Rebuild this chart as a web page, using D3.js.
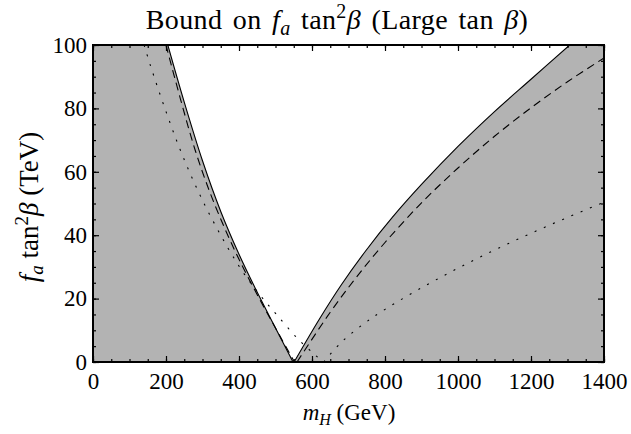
<!DOCTYPE html>
<html><head><meta charset="utf-8">
<script src="https://cdn.jsdelivr.net/npm/d3@7"></script>
<style>body{margin:0;background:#fff}svg{display:block}svg text{font-family:"Liberation Serif","Times New Roman","DejaVu Serif",serif !important;fill:#000}</style>
</head><body>
<svg id="chart" width="631" height="434"></svg>
<script>
// ---- data (GeV, TeV) ----
const xMajorTicks = [0,200,400,600,800,1000,1200,1400];
const yMajorTicks = [0,20,40,60,80,100];
const xMinorTicks = d3.range(0,1401,50);
const yMinorTicks = d3.range(0,101,5);

const leftSolidM  = [205,250,300,350,400,450,500,548];
const leftSolidV  = [100,82,63.5,47.5,34,22,10.75,0];
const rightSolidM = [551,620,680,750,820,900,1000,1100,1200,1306];
const rightSolidV = [0,13.5,24.3,35.5,45.6,56,68,79,89.2,100];

const leftDashedM  = [200,240,280,320,360,400,450,500,552];
const leftDashedV  = [100,82.8,66.8,53.6,42.4,32.4,21.2,10.7,0];
const rightDashedM = [559,650,720,800,900,1000,1100,1200,1300,1400];
const rightDashedV = [0,15.7,26.5,37.7,50.2,61.2,71.2,80.2,88.4,95.9];

const leftDottedM  = [140,156,200,244,300,367,416,460,504,562,603,630];
const leftDottedV  = [100,94,79,65.5,51,36.5,27.5,20.8,14.8,7.2,2.8,0];
const rightDottedM = [632,680,740,800,900,1000,1100,1200,1300,1400];
const rightDottedV = [0,6.2,11.9,16.6,23.4,29.6,35.3,40.6,45.6,50.4];

const zip = (m,v) => m.map((d,i)=>[d,v[i]]);
const FONT = '"Liberation Serif","Times New Roman","DejaVu Serif",serif';

// ---- layout ----
const svg = d3.select("#chart");
const L=93, R=604, T=45, B=362;
const x = d3.scaleLinear().domain([0,1400]).range([L,R]);
const y = d3.scaleLinear().domain([0,100]).range([B,T]);

svg.append("clipPath").attr("id","clip").append("rect")
  .attr("x",L).attr("y",T).attr("width",R-L).attr("height",B-T);
const g = svg.append("g").attr("clip-path","url(#clip)");

const line = d3.line().x(d=>x(d[0])).y(d=>y(d[1])).curve(d3.curveCatmullRom.alpha(0.5));

// gray excluded region, white allowed V
g.append("rect").attr("x",L).attr("y",T).attr("width",R-L).attr("height",B-T).attr("fill","#b3b3b3");
const lp = line(zip(leftSolidM,leftSolidV));
const rp = line(zip(rightSolidM,rightSolidV)).replace(/^M/,"L");
g.append("path").attr("d", lp + rp + "Z").attr("fill","#fff");

// curves
const curves = [
  [leftSolidM,leftSolidV,null],[rightSolidM,rightSolidV,null],
  [leftDashedM,leftDashedV,"8,5"],[rightDashedM,rightDashedV,"8,5"],
  [leftDottedM,leftDottedV,"2,8"],[rightDottedM,rightDottedV,"2,8"]
];
curves.forEach(([m,v,dash])=>{
  g.append("path").attr("d",line(zip(m,v))).attr("fill","none")
   .attr("stroke","#000").attr("stroke-width",1.1)
   .attr("stroke-dasharray",dash);
});

// axes with inward ticks
function axis(gen, scale, vals, size, labels, tx, ty){
  const a = gen(scale).tickValues(vals).tickSizeInner(size).tickSizeOuter(0)
    .tickFormat(labels ? d3.format("d") : "");
  const ag = svg.append("g").attr("transform",`translate(${tx},${ty})`).call(a);
  ag.attr("font-family",FONT);
  ag.select(".domain").remove();
  ag.selectAll("line").attr("stroke","#000").attr("stroke-width",1.2);
  return ag;
}
const xb = axis(d3.axisBottom, x, xMajorTicks, -6, true, 0, B);
axis(d3.axisBottom, x, xMinorTicks, -3, false, 0, B);
axis(d3.axisTop, x, xMajorTicks, -6, false, 0, T);
axis(d3.axisTop, x, xMinorTicks, -3, false, 0, T);
const yl = axis(d3.axisLeft, y, yMajorTicks, -6, true, L, 0);
axis(d3.axisLeft, y, yMinorTicks, -3, false, L, 0);
axis(d3.axisRight, y, yMajorTicks, -6, false, R, 0);
axis(d3.axisRight, y, yMinorTicks, -3, false, R, 0);

xb.selectAll("text").attr("font-size",23).attr("font-family",FONT).attr("y",11).attr("dy","0.71em");
yl.selectAll("text").attr("font-size",23).attr("font-family",FONT).attr("x",-6).attr("dy","0.32em");

// frame
svg.append("rect").attr("x",L).attr("y",T).attr("width",R-L).attr("height",B-T)
  .attr("fill","none").attr("stroke","#000").attr("stroke-width",2);

// title
const title = svg.append("text").attr("x",337).attr("y",29).attr("text-anchor","middle")
  .attr("font-size",28).attr("font-family",FONT)
  .attr("word-spacing",3).attr("letter-spacing",0.4);
title.append("tspan").text("Bound on ");
title.append("tspan").attr("font-style","italic").text("f");
title.append("tspan").attr("font-style","italic").attr("font-size",20).attr("dy",6).text("a");
title.append("tspan").attr("dy",-6).text(" tan");
title.append("tspan").attr("font-size",20).attr("dy",-11).text("2");
title.append("tspan").attr("font-style","italic").attr("dy",11).text("β");
title.append("tspan").text(" (Large tan ");
title.append("tspan").attr("font-style","italic").text("β");
title.append("tspan").text(")");

// x label
const xlab = svg.append("text").attr("x",349).attr("y",420).attr("text-anchor","middle")
  .attr("font-size",23).attr("font-family",FONT);
xlab.append("tspan").attr("font-style","italic").text("m");
xlab.append("tspan").attr("font-style","italic").attr("font-size",16).attr("dy",5).text("H");
xlab.append("tspan").attr("dy",-5).text(" (GeV)");

// y label
const ylab = svg.append("text").attr("transform","translate(38,207) rotate(-90)").attr("text-anchor","middle")
  .attr("font-size",27).attr("font-family",FONT);
ylab.append("tspan").attr("font-style","italic").text("f");
ylab.append("tspan").attr("font-style","italic").attr("font-size",19).attr("dy",5).text("a");
ylab.append("tspan").attr("dy",-5).text(" tan");
ylab.append("tspan").attr("font-size",19).attr("dy",-10).text("2");
ylab.append("tspan").attr("font-style","italic").attr("dy",10).text("β");
ylab.append("tspan").text(" (TeV)");
</script>
</body></html>
